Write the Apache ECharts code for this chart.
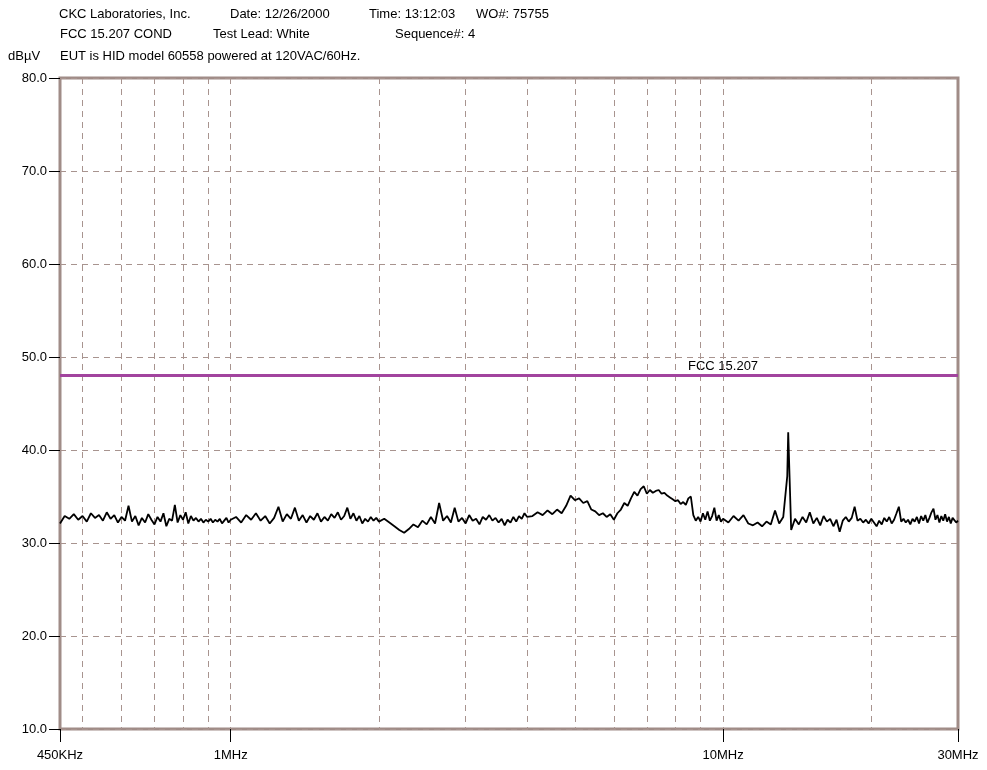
<!DOCTYPE html>
<html>
<head>
<meta charset="utf-8">
<title>FCC 15.207 COND</title>
<script src="https://cdn.jsdelivr.net/npm/echarts@6/dist/echarts.min.js"></script>
<style>
  html, body { margin: 0; padding: 0; background: #fff; }
  #chart { width: 987px; height: 770px; }
</style>
</head>
<body>
<div id="chart"></div>
<script>
// frequency sweep, MHz
const freqs = [
  0.45, 0.46, 0.47, 0.48, 0.49, 0.50, 0.51, 0.52, 0.53, 0.54, 0.55, 0.56, 0.57, 0.58, 0.59, 0.60,
  0.61, 0.62, 0.63, 0.64, 0.65, 0.66, 0.67, 0.68, 0.69, 0.70, 0.71, 0.72, 0.73, 0.74, 0.75, 0.76,
  0.77, 0.78, 0.79, 0.80, 0.81, 0.82, 0.83, 0.84, 0.85, 0.86, 0.87, 0.88, 0.89, 0.90, 0.91, 0.92,
  0.93, 0.94, 0.95, 0.96, 0.97, 0.98, 0.99, 1.00,
  1.025, 1.05, 1.075, 1.10, 1.125, 1.15, 1.175, 1.20, 1.225, 1.25, 1.275, 1.30, 1.325, 1.35,
  1.375, 1.40, 1.425, 1.45, 1.475, 1.50, 1.525, 1.55, 1.575, 1.60, 1.625, 1.65, 1.675, 1.70,
  1.725, 1.75, 1.775, 1.80, 1.825, 1.85, 1.875, 1.90, 1.925, 1.95, 1.975, 2.00,
  2.05, 2.10, 2.15, 2.20, 2.25, 2.30, 2.35, 2.40, 2.45, 2.50, 2.55, 2.60, 2.65, 2.70, 2.75, 2.80,
  2.85, 2.90, 2.95, 3.00, 3.05, 3.10, 3.15, 3.20, 3.25, 3.30, 3.35, 3.40, 3.45, 3.50, 3.55, 3.60,
  3.65, 3.70, 3.75, 3.80, 3.85, 3.90, 3.95, 4.00,
  4.1, 4.2, 4.3, 4.4, 4.5, 4.6, 4.7, 4.8, 4.9, 5.0, 5.1, 5.2, 5.3, 5.4, 5.5, 5.6, 5.7, 5.8, 5.9, 6.0,
  6.1, 6.2, 6.3, 6.4, 6.5, 6.6, 6.7, 6.8, 6.9, 7.0, 7.1, 7.2, 7.3, 7.4, 7.5, 7.6, 7.7, 7.8, 7.9, 8.0,
  8.1, 8.2, 8.3, 8.4, 8.5, 8.6, 8.7, 8.8, 8.9, 9.0, 9.1, 9.2, 9.3, 9.4, 9.5, 9.6, 9.7, 9.8, 9.9, 10.0,
  10.25, 10.5, 10.75, 11.0, 11.25, 11.5, 11.75, 12.0, 12.25, 12.5, 12.75, 13.0, 13.25, 13.5, 13.56,
  13.75, 14.0, 14.25, 14.5, 14.75, 15.0, 15.25, 15.5, 15.75, 16.0, 16.25, 16.5, 16.75, 17.0, 17.25,
  17.5, 17.75, 18.0, 18.25, 18.5, 18.75, 19.0, 19.25, 19.5, 19.75, 20.0, 20.25, 20.5, 20.75, 21.0,
  21.25, 21.5, 21.75, 22.0, 22.25, 22.5, 22.75, 23.0, 23.25, 23.5, 23.75, 24.0, 24.25, 24.5, 24.75,
  25.0, 25.25, 25.5, 25.75, 26.0, 26.25, 26.5, 26.75, 27.0, 27.25, 27.5, 27.75, 28.0, 28.25, 28.5,
  28.75, 29.0, 29.25, 29.5, 29.75, 30.0
];

// measured level, dBuV
const levels = [
  32.1, 32.9, 32.6, 33.1, 32.5, 32.9, 32.3, 33.2, 32.7, 33.0, 32.4, 33.3, 32.6, 33.0, 32.2, 32.8,
  32.4, 34.0, 32.3, 32.9, 31.9, 32.7, 32.2, 33.1, 32.5, 32.0, 32.8, 32.3, 33.2, 31.8, 32.6, 32.4,
  34.1, 32.2, 33.0, 32.5, 33.3, 32.1, 32.9, 32.4, 32.7, 32.3, 32.6, 32.2, 32.5, 32.3, 32.6, 32.2,
  32.5, 32.3, 32.6, 32.1, 32.4, 32.7, 32.2, 32.5,
  32.8, 32.2, 33.0, 32.5, 33.2, 32.4, 32.9, 32.1, 32.7, 33.9, 32.3, 33.1, 32.6, 33.8,
  32.4, 33.0, 32.2, 32.9, 32.5, 33.2, 32.3, 32.8, 32.4, 33.1, 32.7, 33.3, 32.5, 32.9,
  33.8, 32.6, 33.2, 32.4, 32.9, 32.1, 32.6, 32.3, 32.8, 32.4, 32.7, 32.3,
  32.6, 32.2, 31.8, 31.4, 31.1, 31.5, 32.0, 31.7, 32.4, 32.0, 32.8, 32.1, 34.3, 32.4, 32.9, 32.2,
  33.8, 32.3, 32.7, 32.1, 33.0, 32.4, 32.6, 32.0, 32.8, 32.5, 33.0, 32.4, 32.7, 32.2, 32.6, 31.9,
  32.5, 32.2, 32.8, 32.3, 32.9, 32.6, 33.2, 32.8,
  32.9, 33.3, 33.0, 33.5, 33.1, 33.6, 33.2, 34.0, 35.1, 34.6, 34.8, 34.3, 34.5, 33.6, 33.4, 33.0, 33.2, 32.8, 33.1, 32.5,
  33.2, 33.6, 34.3, 34.0, 34.8, 35.5, 35.1, 35.8, 36.1, 35.3, 35.7, 35.4, 35.6, 35.7, 35.3, 35.4, 35.1, 34.9, 34.7, 34.5,
  34.6, 34.2, 34.4, 34.1, 34.8, 35.0, 33.0, 32.4, 32.8, 32.3, 33.2, 32.5, 33.4, 32.4, 32.9, 33.8, 32.4, 33.0, 32.3, 32.6,
  32.2, 32.9, 32.4, 33.0, 32.1, 31.9, 32.2, 31.8, 32.3, 32.0, 33.5, 32.1, 32.8, 37.2, 41.9,
  31.4, 32.6, 32.0, 32.8, 32.2, 33.3, 32.1, 32.7, 31.9, 32.9, 32.3, 32.6, 31.8, 32.5, 31.2,
  32.4, 32.8, 32.3, 32.7, 33.9, 32.4, 32.6, 32.2, 32.5, 32.1, 32.6, 32.2, 31.8, 32.4, 32.0,
  32.7, 32.3, 32.8, 32.1, 32.5, 33.2, 33.9, 32.3, 32.6, 32.2, 32.5, 32.0, 32.6, 32.3, 32.8,
  32.1, 32.9, 32.4, 33.0, 32.2, 32.7, 33.3, 33.7, 32.5, 33.0, 32.2, 32.9, 32.4, 33.1, 32.3,
  32.8, 32.1, 32.7, 32.9, 32.2, 32.4
];

const limitFreqs = [0.45, 30];
const limitLevels = [48, 48];

const xTickValues = [0.45, 1, 10, 30];
const xTickLabels = ['450KHz', '1MHz', '10MHz', '30MHz'];
const xGridValues = [0.5, 0.6, 0.7, 0.8, 0.9, 1, 2, 3, 4, 5, 6, 7, 8, 9, 10, 20];

const FONT = '"Liberation Sans", Arial, sans-serif';
const GRID_COLOR = '#a8948f';
const BORDER_COLOR = '#a08c87';

const chart = echarts.init(document.getElementById('chart'), null, { renderer: 'canvas' });

function headerText(x, y, text) {
  return {
    type: 'text', left: x, top: y,
    style: { text: text, fill: '#000', font: '13px ' + FONT }
  };
}

const option = {
  animation: false,
  backgroundColor: '#fff',
  grid: {
    left: 60, right: 29, top: 78, bottom: 41,
    show: true, borderColor: BORDER_COLOR, borderWidth: 3, backgroundColor: 'transparent'
  },
  graphic: [
    headerText(59, 8, 'CKC Laboratories, Inc.'),
    headerText(230, 8, 'Date: 12/26/2000'),
    headerText(369, 8, 'Time: 13:12:03'),
    headerText(476, 8, 'WO#: 75755'),
    headerText(60, 28, 'FCC 15.207 COND'),
    headerText(213, 28, 'Test Lead: White'),
    headerText(395, 28, 'Sequence#: 4'),
    headerText(8, 50, 'dBµV'),
    headerText(60, 50, 'EUT is HID model 60558 powered at 120VAC/60Hz.'),
    headerText(688, 360, 'FCC 15.207')
  ],
  xAxis: [
    {
      type: 'log', logBase: 10, min: 0.45, max: 30,
      axisLine: { show: false },
      splitLine: { show: false },
      axisTick: {
        show: true, inside: false, length: 13,
        customValues: xTickValues,
        lineStyle: { color: '#000', width: 1 }
      },
      axisLabel: {
        show: true, margin: 20, color: '#000', fontFamily: FONT, fontSize: 13,
        customValues: xTickValues,
        formatter: function (v) {
          const i = xTickValues.findIndex(t => Math.abs(t - v) / t < 0.01);
          return i >= 0 ? xTickLabels[i] : '';
        }
      }
    },
    {
      type: 'log', logBase: 10, min: 0.45, max: 30, position: 'bottom',
      axisLine: { show: false },
      axisLabel: { show: false },
      axisTick: { show: false, customValues: xGridValues },
      splitLine: { show: true, lineStyle: { color: GRID_COLOR, type: [6, 5], width: 1 } }
    }
  ],
  yAxis: {
    type: 'value', min: 10, max: 80, interval: 10,
    axisLine: { show: false },
    axisTick: { show: true, inside: false, length: 11, lineStyle: { color: '#000' } },
    axisLabel: {
      margin: 13, color: '#000', fontFamily: FONT, fontSize: 13,
      formatter: v => v.toFixed(1)
    },
    splitLine: { show: true, lineStyle: { color: GRID_COLOR, type: [6, 5], width: 1 } }
  },
  series: [
    {
      name: 'FCC 15.207',
      type: 'line',
      xAxisIndex: 0,
      data: limitFreqs.map((f, i) => [f, limitLevels[i]]),
      symbol: 'none',
      lineStyle: { color: '#a2449e', width: 3 },
      z: 3
    },
    {
      name: 'Trace',
      type: 'line',
      xAxisIndex: 0,
      data: freqs.map((f, i) => [f, levels[i]]),
      symbol: 'none',
      lineStyle: { color: '#000', width: 1.8 },
      z: 4
    }
  ]
};

chart.setOption(option);
</script>
</body>
</html>
